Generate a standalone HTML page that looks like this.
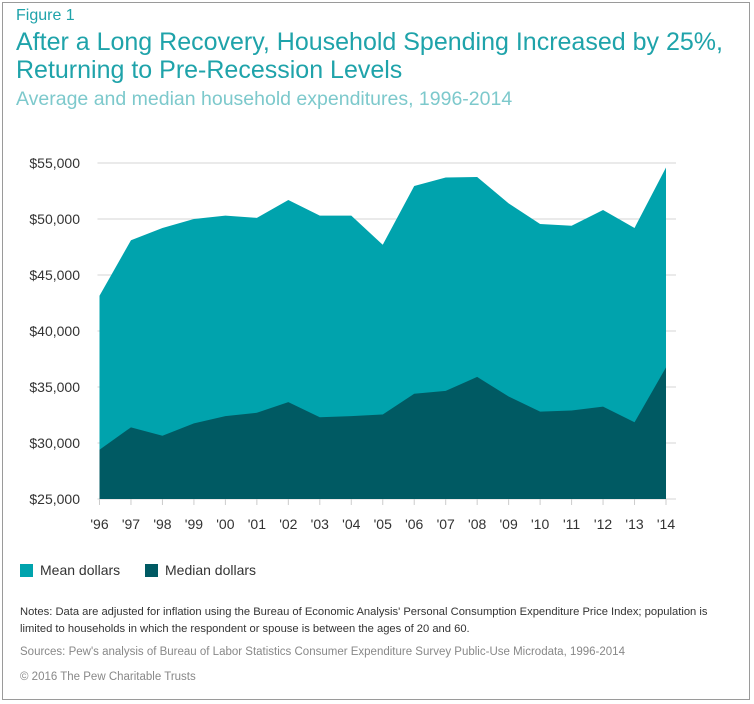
<!DOCTYPE html>
<html><head><meta charset="utf-8"><style>
body{margin:0;background:#fff;width:754px;height:704px;overflow:hidden;font-family:"Liberation Sans",sans-serif}
#frame{position:absolute;left:2px;top:2px;width:748px;height:698px;border:1px solid #9a9a9a;box-sizing:border-box}
.t{position:absolute;white-space:nowrap}
</style></head><body>
<div id="frame"></div>
<div class="t" style="left:16px;top:7px;font-size:16px;color:#1fa3aa">Figure 1</div>
<div class="t" style="left:16px;top:28px;font-size:25px;line-height:28px;color:#1fa3aa">After a Long Recovery, Household Spending Increased by 25%,<br>Returning to Pre-Recession Levels</div>
<div class="t" style="left:16px;top:88px;font-size:19.5px;color:#7dc9cc">Average and median household expenditures, 1996-2014</div>
<svg id="chart" width="754" height="560" style="position:absolute;left:0;top:0"></svg>
<div class="t" style="left:20px;top:562px;font-size:14px;color:#333"><span style="display:inline-block;width:13px;height:13px;background:#00a3ad;vertical-align:-2px;margin-right:7px"></span>Mean dollars</div>
<div class="t" style="left:145px;top:562px;font-size:14px;color:#333"><span style="display:inline-block;width:13px;height:13px;background:#005a63;vertical-align:-2px;margin-right:7px"></span>Median dollars</div>
<div class="t" style="left:20px;top:604px;font-size:11.2px;line-height:17px;color:#333">Notes: Data are adjusted for inflation using the Bureau of Economic Analysis' Personal Consumption Expenditure Price Index; population is<br>limited to households in which the respondent or spouse is between the ages of 20 and 60.</div>
<div class="t" style="left:20px;top:646px;font-size:11.5px;color:#888">Sources: Pew's analysis of Bureau of Labor Statistics Consumer Expenditure Survey Public-Use Microdata, 1996-2014</div>
<div class="t" style="left:20px;top:671px;font-size:11.5px;color:#888">© 2016 The Pew Charitable Trusts</div>
<script>
const years=["'96","'97","'98","'99","'00","'01","'02","'03","'04","'05","'06","'07","'08","'09","'10","'11","'12","'13","'14"];
const meanVals=[43150,48100,49200,50000,50300,50100,51700,50300,50300,47700,52950,53700,53750,51400,49550,49400,50800,49200,54600];
const medianVals=[29400,31400,30650,31750,32400,32700,33650,32300,32400,32550,34400,34650,35900,34150,32800,32900,33250,31850,36750];
const yTicks=[25000,30000,35000,40000,45000,50000,55000];
const svg=document.getElementById('chart');
const NS='http://www.w3.org/2000/svg';
const x0=99.5,x1=666,yMin=25000,yMax=55000,yB=499,yT=163;
const X=i=>x0+(x1-x0)*i/(years.length-1);
const Y=v=>yB-(v-yMin)/(yMax-yMin)*(yB-yT);
function mk(t,a){const e=document.createElementNS(NS,t);for(const k in a)e.setAttribute(k,a[k]);svg.appendChild(e);return e;}
yTicks.forEach(v=>{
 const g=mk('line',{x1:x0-2,x2:x1+10,y1:Y(v),y2:Y(v),stroke:'#d4d4d4','stroke-width':1});
 
 
 const t=mk('text',{x:80,y:Y(v)+5,'text-anchor':'end','font-size':14,fill:'#333','font-family':'Liberation Sans, sans-serif'});
 t.textContent='$'+v.toLocaleString('en-US');
 
 
});
function area(vals,fill,name){
 let d='M'+X(0)+','+yB;
 vals.forEach((v,i)=>{d+=' L'+X(i)+','+Y(v);});
 d+=' L'+X(vals.length-1)+','+yB+' Z';
 const p=mk('path',{d:d,fill:fill});
 
 
}
area(meanVals,'#00a3ad','mean-area');
area(medianVals,'#005a63','median-area');
years.forEach((y,i)=>{
 const l=mk('line',{x1:X(i),x2:X(i),y1:yB,y2:yB+6,stroke:'#ccc'});
 
 
 const t=mk('text',{x:X(i),y:529,'text-anchor':'middle','font-size':14,fill:'#333','font-family':'Liberation Sans, sans-serif'});
 t.textContent=y;
 
 
});
</script>
</body></html>
